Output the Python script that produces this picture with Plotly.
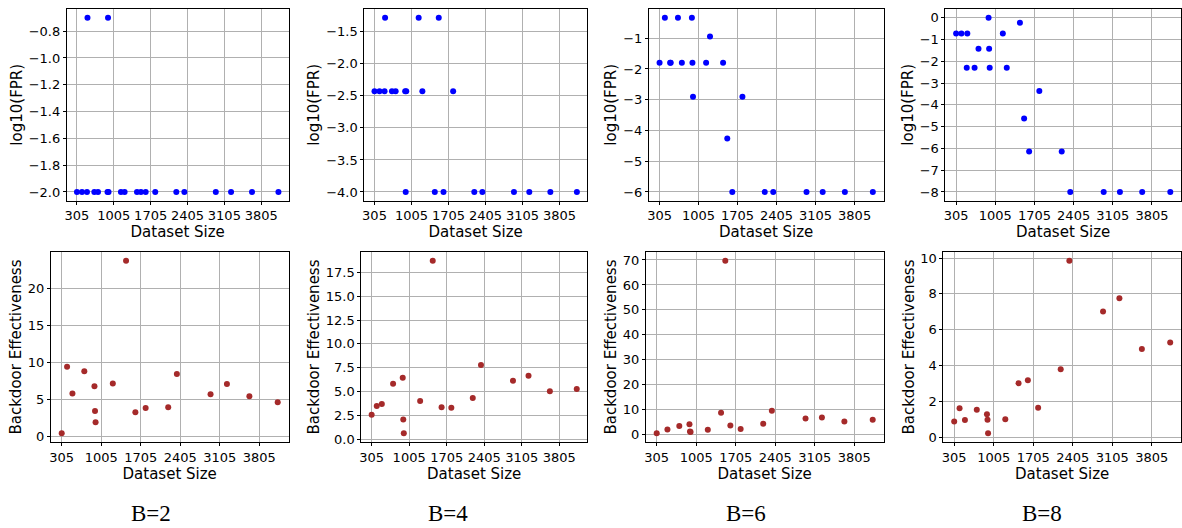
import plotly.graph_objects as go

# ---------------- data ----------------
SIZES = [305, 400, 495, 505, 635, 705, 885, 895, 905, 1140, 1210,
         1445, 1520, 1610, 1792, 2192, 2345, 2942, 3232, 3630, 4132]

B_LABELS = ["B=2", "B=4", "B=6", "B=8"]

FPR_B2 = [-2.0, -2.0, -2.0, -0.699, -2.0, -2.0, -2.0, -0.699, -2.0, -2.0, -2.0,
          -2.0, -2.0, -2.0, -2.0, -2.0, -2.0, -2.0, -2.0, -2.0, -2.0]
FPR_B4 = [-2.43, -2.43, -2.43, -1.28, -2.43, -2.43, -2.43, -4.0, -2.43, -1.28, -2.43,
          -4.0, -1.28, -4.0, -2.43, -4.0, -4.0, -4.0, -4.0, -4.0, -4.0]
FPR_B6 = [-1.80, -0.33, -1.80, -1.80, -0.33, -1.80, -0.33, -1.80, -2.90, -1.80, -0.94,
          -1.80, -4.26, -6.0, -2.90, -6.0, -6.0, -6.0, -6.0, -6.0, -6.0]
FPR_B8 = [-0.73, -0.73, -2.30, -0.73, -2.30, -1.43, 0.0, -1.43, -2.30, -0.73, -2.30,
          -0.24, -4.63, -6.14, -3.37, -6.14, -8.0, -8.0, -8.0, -8.0, -8.0]

EFF_B2 = [0.45, 9.4, 5.8, None, None, 8.8, 6.8, 3.45, 1.95, None, 7.15,
          23.7, None, 3.3, 3.85, 3.95, 8.45, 5.72, 7.08, 5.45, 4.62]
EFF_B4 = [2.58, 3.51, 3.71, None, None, 5.84, 6.46, 2.10, 0.65, None, 4.02,
          18.7, None, 3.37, 3.33, 4.33, 7.80, 6.15, 6.67, 5.05, 5.29]
EFF_B6 = [0.53, None, 2.1, None, None, 3.43, 4.2, 1.3, 1.05, None, 1.98,
          8.8, 69.7, 3.7, 2.24, 4.35, 9.6, 6.46, 6.85, 5.27, 5.93]
EFF_B8 = [0.88, 1.62, 0.96, None, None, 1.54, 1.29, 0.97, 0.22, None, 1.01,
          3.01, None, 3.18, 1.64, 3.79, 9.85, 7.02, 7.76, 4.93, 5.29]

X_TICKS = [305, 1005, 1705, 2405, 3105, 3805]

# per panel y tick settings: (tick0, dtick, format)
FPR_TICKS = [(-2.0, 0.2, ".1f"), (-4.0, 0.5, ".1f"), (-6, 1, "d"), (-8, 1, "d")]
EFF_TICKS = [(0, 5, "d"), (0, 2.5, ".1f"), (0, 10, "d"), (0, 2, "d")]

# ---------------- layout geometry (pixels) ----------------
W, H = 1182, 528
TOP_X = [(65, 287), (363, 586), (648, 883), (945, 1181)]
BOT_X = [(49, 287), (360, 586), (645, 883), (943, 1181)]
TOP_Y = (8, 202)
BOT_Y = (254, 446)
LABEL_X = [149, 447, 745, 1042]
LABEL_Y = 518

FONT = "DejaVu Sans"
GRID = "#b0b0b0"


def xdom(p):
    return [p[0] / W, p[1] / W]


def ydom(p):
    return [1 - p[1] / H, 1 - p[0] / H]


def pad_range(vals):
    v = [a for a in vals if a is not None]
    lo, hi = min(v), max(v)
    d = (hi - lo) * 0.05
    return [lo - d, hi + d]


fig = go.Figure()
layout = dict(
    width=W, height=H,
    margin=dict(l=0, r=0, t=0, b=0),
    paper_bgcolor="white", plot_bgcolor="white",
    showlegend=False,
    font=dict(family=FONT, size=13, color="black"),
)

def axis_common():
    return dict(
        showline=True, mirror=True, linecolor="black", linewidth=1,
        showgrid=True, gridcolor=GRID, gridwidth=1,
        zeroline=False, ticks="outside", ticklen=3, tickcolor="black",
        tickfont=dict(family=FONT, size=13, color="black"),
    )

fprs = [FPR_B2, FPR_B4, FPR_B6, FPR_B8]
effs = [EFF_B2, EFF_B4, EFF_B6, EFF_B8]

xr = pad_range(SIZES)

for i in range(4):
    # top panel
    n = 2 * i + 1
    xa = "x" if n == 1 else f"x{n}"
    ya = "y" if n == 1 else f"y{n}"
    fig.add_trace(go.Scatter(
        x=SIZES, y=fprs[i], mode="markers",
        marker=dict(color="#0000ff", size=6, line=dict(width=0)),
        xaxis=xa, yaxis=ya))
    t0, dt, fmt = FPR_TICKS[i]
    ax = axis_common()
    ax.update(domain=xdom(TOP_X[i]), anchor=ya, range=xr,
              tickmode="array", tickvals=X_TICKS,
              ticktext=[str(t) for t in X_TICKS],
              title=dict(text="Dataset Size", font=dict(size=15), standoff=0))
    ay = axis_common()
    ay.update(domain=ydom(TOP_Y), anchor=xa, range=pad_range(fprs[i]),
              tick0=t0, dtick=dt, tickformat=fmt,
              title=dict(text="log10(FPR)", font=dict(size=15), standoff=2))
    layout["xaxis" if n == 1 else f"xaxis{n}"] = ax
    layout["yaxis" if n == 1 else f"yaxis{n}"] = ay

    # bottom panel
    m = 2 * i + 2
    xb = f"x{m}"
    yb = f"y{m}"
    xs = [s for s, e in zip(SIZES, effs[i]) if e is not None]
    ys = [e for e in effs[i] if e is not None]
    fig.add_trace(go.Scatter(
        x=xs, y=ys, mode="markers",
        marker=dict(color="#a52a2a", size=6, line=dict(width=0)),
        xaxis=xb, yaxis=yb))
    t0, dt, fmt = EFF_TICKS[i]
    bx = axis_common()
    bx.update(domain=xdom(BOT_X[i]), anchor=yb, range=xr,
              tickmode="array", tickvals=X_TICKS,
              ticktext=[str(t) for t in X_TICKS],
              title=dict(text="Dataset Size", font=dict(size=15), standoff=0))
    by = axis_common()
    by.update(domain=ydom(BOT_Y), anchor=xb, range=pad_range(ys),
              tick0=t0, dtick=dt, tickformat=fmt,
              title=dict(text="Backdoor Effectiveness", font=dict(size=15), standoff=2))
    layout[f"xaxis{m}"] = bx
    layout[f"yaxis{m}"] = by

annotations = []
for i, lab in enumerate(B_LABELS):
    annotations.append(dict(
        text=lab, x=LABEL_X[i] / W, y=1 - LABEL_Y / H,
        xref="paper", yref="paper", xanchor="center", yanchor="middle",
        showarrow=False,
        font=dict(family="Liberation Serif", size=23, color="black")))
layout["annotations"] = annotations

fig.update_layout(**layout)
fig.write_html(
    "out.html",
    config={"displayModeBar": False},
    post_script="document.body.style.margin='0';document.body.style.overflow='hidden';",
)
